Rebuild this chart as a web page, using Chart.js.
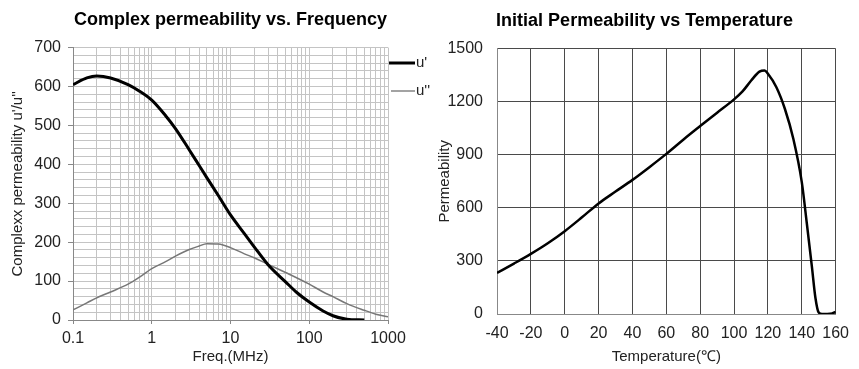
<!DOCTYPE html>
<html>
<head>
<meta charset="utf-8">
<script src="https://cdn.jsdelivr.net/npm/chart.js@4.4.0/dist/chart.umd.min.js"></script>
<style>
    body { margin: 0; background: #fff; }
    #wrap { position: relative; width: 859px; height: 369px; }
    #freqChart { position: absolute; left: 0; top: 0; }
    #tempChart { position: absolute; left: 430px; top: 0; }
</style>
</head>
<body>
<div id="wrap">
    <canvas id="freqChart" width="430" height="369"></canvas>
    <canvas id="tempChart" width="429" height="369"></canvas>
</div>
<script>
// values
var freqMHz = [0.1, 0.15, 0.2, 0.3, 0.5, 0.7, 1, 1.5, 2, 3, 4, 5, 7, 10, 15, 20, 30, 50, 70, 100, 150, 200, 300, 500, 700, 1000];
var uPrime = [605, 622, 627, 622, 605, 588, 565, 525, 492, 437, 397, 366, 320, 270, 222, 188, 142, 98, 70, 46, 23, 11, 2, 0, null, null];
var uDoublePrime = [26, 44, 57, 72, 92, 110, 132, 150, 164, 181, 190, 196, 195, 186, 170, 160, 143, 122, 108, 92, 72, 60, 42, 25, 15, 8];
var freqDecades = [0.1, 1, 10, 100, 1000];
var legendLabels = ["u'", "u''"];

var tempC = [-40, -30, -20, -10, 0, 10, 20, 30, 40, 50, 60, 70, 80, 90, 100, 105, 110, 115, 118, 120, 125, 130, 135, 140, 143, 146, 148, 150, 152, 155, 158, 160];
var permeability = [232, 285, 340, 400, 468, 545, 625, 692, 758, 830, 905, 985, 1062, 1138, 1213, 1258, 1318, 1370, 1376, 1358, 1282, 1160, 990, 745, 510, 265, 95, 8, 0, 0, 3, 12];

var fontFamily = '"Liberation Sans", Arial, sans-serif';
var textColor = '#222';

function toPoints(xs, ys) {
    return xs.map(function (x, i) { return { x: x, y: ys[i] }; });
}

function isDecade(v) {
    return freqDecades.some(function (d) { return Math.abs(d - v) < 1e-9; });
}

// legend drawn to the right of the plot, like the original
var sideLegend = {
    id: 'sideLegend',
    afterDraw: function (chart) {
        var ctx = chart.ctx;
        var right = chart.chartArea.right;
        var rows = [
            { y: 63, width: 3, color: '#000', x0: right + 1 },
            { y: 91, width: 1.2, color: '#666', x0: right + 3 }
        ];
        ctx.save();
        ctx.font = '15px ' + fontFamily;
        ctx.textBaseline = 'middle';
        rows.forEach(function (r, i) {
            ctx.beginPath();
            ctx.strokeStyle = r.color;
            ctx.lineWidth = r.width;
            ctx.moveTo(r.x0, r.y);
            ctx.lineTo(right + 27, r.y);
            ctx.stroke();
            ctx.fillStyle = textColor;
            ctx.fillText(legendLabels[i], right + 28, r.y);
        });
        ctx.restore();
    }
};

var freqChart = new Chart(document.getElementById('freqChart').getContext('2d'), {
    type: 'line',
    data: {
        datasets: [{
            label: legendLabels[0],
            data: toPoints(freqMHz, uPrime),
            borderColor: '#000',
            borderWidth: 3,
            pointRadius: 0,
            cubicInterpolationMode: 'monotone'
        }, {
            label: legendLabels[1],
            data: toPoints(freqMHz, uDoublePrime),
            borderColor: '#777',
            borderWidth: 1.5,
            pointRadius: 0,
            cubicInterpolationMode: 'monotone'
        }]
    },
    options: {
        responsive: false,
        animation: false,
        layout: { padding: { top: 9, right: 42, left: 0, bottom: 0 } },
        plugins: {
            legend: { display: false },
            tooltip: { enabled: false },
            title: {
                display: true,
                fullSize: false,
                text: 'Complex permeability vs. Frequency',
                color: '#000',
                font: { family: fontFamily, size: 18, weight: 'bold' },
                padding: { top: 0, bottom: 17 }
            }
        },
        scales: {
            x: {
                type: 'logarithmic',
                min: 0.1,
                max: 1000,
                afterBuildTicks: function (scale) {
                    var ticks = [];
                    for (var d = 0; d < freqDecades.length - 1; d++) {
                        for (var k = 1; k < 10; k++) ticks.push({ value: freqDecades[d] * k });
                    }
                    ticks.push({ value: freqDecades[freqDecades.length - 1] });
                    scale.ticks = ticks;
                },
                afterFit: function (scale) { scale.height = 49; },
                grid: {
                    color: '#c4c4c4',
                    tickLength: 4,
                    tickColor: function (c) { return c.tick && isDecade(c.tick.value) ? '#888' : 'rgba(0,0,0,0)'; }
                },
                border: { color: '#888' },
                ticks: {
                    autoSkip: false,
                    maxRotation: 0,
                    padding: 5,
                    color: textColor,
                    font: { family: fontFamily, size: 16 },
                    callback: function (v) { return isDecade(v) ? String(v) : ''; }
                },
                title: {
                    display: true,
                    text: 'Freq.(MHz)',
                    color: textColor,
                    font: { family: fontFamily, size: 15 },
                    padding: { top: 0, bottom: 3 }
                }
            },
            y: {
                min: 0,
                max: 700,
                afterFit: function (scale) { scale.width = 73; },
                grid: {
                    color: '#c4c4c4',
                    tickLength: 5,
                    tickColor: function (c) { return c.tick && c.tick.value % 100 === 0 ? '#888' : 'rgba(0,0,0,0)'; }
                },
                border: { color: '#888' },
                ticks: {
                    stepSize: 20,
                    autoSkip: false,
                    padding: 7,
                    color: textColor,
                    font: { family: fontFamily, size: 16 },
                    callback: function (v) { return v % 100 === 0 ? String(v) : ''; }
                },
                title: {
                    display: true,
                    text: "Complexx permeability u'/u''",
                    color: textColor,
                    font: { family: fontFamily, size: 15 },
                    padding: { top: 9, bottom: 0 }
                }
            }
        }
    },
    plugins: [sideLegend]
});

// left padding matches the right one so the title sits centred on the canvas
var tempChart = new Chart(document.getElementById('tempChart').getContext('2d'), {
    type: 'line',
    data: {
        datasets: [{
            label: 'Permeability',
            data: toPoints(tempC, permeability),
            borderColor: '#000',
            borderWidth: 2.5,
            pointRadius: 0,
            cubicInterpolationMode: 'monotone'
        }]
    },
    options: {
        responsive: false,
        animation: false,
        layout: { padding: { top: 10, right: 14, left: 14, bottom: 0 } },
        plugins: {
            legend: { display: false },
            tooltip: { enabled: false },
            title: {
                display: true,
                text: 'Initial Permeability vs Temperature',
                color: '#000',
                font: { family: fontFamily, size: 18, weight: 'bold' },
                padding: { top: 0, bottom: 17 }
            }
        },
        scales: {
            x: {
                type: 'linear',
                min: -40,
                max: 160,
                afterFit: function (scale) { scale.height = 55; },
                grid: { color: '#4a4a4a', drawTicks: false },
                border: { color: '#888' },
                ticks: {
                    stepSize: 20,
                    autoSkip: false,
                    maxRotation: 0,
                    padding: 10,
                    color: textColor,
                    font: { family: fontFamily, size: 16 },
                    callback: function (v) { return String(v); }
                },
                title: {
                    display: true,
                    text: 'Temperature(℃)',
                    color: textColor,
                    font: { family: fontFamily, size: 15 },
                    padding: { top: 0, bottom: 3 }
                }
            },
            y: {
                min: 0,
                max: 1500,
                afterFit: function (scale) { scale.width = 53; },
                grid: { color: '#4a4a4a', drawTicks: false },
                border: { color: '#888' },
                ticks: {
                    stepSize: 300,
                    padding: 14,
                    color: textColor,
                    font: { family: fontFamily, size: 16 },
                    callback: function (v) { return String(v); }
                },
                title: {
                    display: true,
                    text: 'Permeability',
                    color: textColor,
                    font: { family: fontFamily, size: 15 },
                    padding: { top: -8, bottom: 0 }
                }
            }
        }
    }
});
</script>
</body>
</html>
